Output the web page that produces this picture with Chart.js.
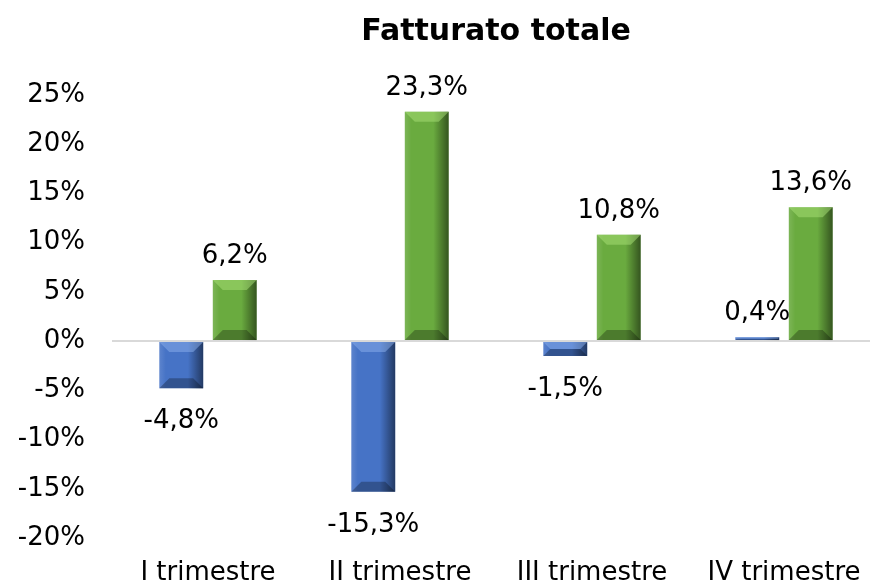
<!DOCTYPE html>
<html>
<head>
<meta charset="utf-8">
<script src="https://cdn.jsdelivr.net/npm/chart.js@4.4.1/dist/chart.umd.min.js"></script>
<style>
  html, body { margin: 0; padding: 0; background: #fff; overflow: hidden; }
  #wrap { width: 880px; height: 587px; }
</style>
</head>
<body>
<div id="wrap"><canvas id="chart"></canvas></div>
<script>
const categories = ['I trimestre', 'II trimestre', 'III trimestre', 'IV trimestre'];
const seriesBlue = [-4.8, -15.3, -1.5, 0.4];
const seriesGreen = [6.2, 23.3, 10.8, 13.6];
const yTicks = [-20, -15, -10, -5, 0, 5, 10, 15, 20, 25];

const fmt = v => v.toFixed(1).replace('.', ',') + '%';

// bevel look, drawn over each bar using the element geometry
const bevelPlugin = {
    id: 'bevel',
    afterDatasetsDraw(chart) {
        const ctx = chart.ctx;
        chart.data.datasets.forEach((ds, i) => {
            chart.getDatasetMeta(i).data.forEach(bar => {
                const l = bar.x - bar.width / 2, r = bar.x + bar.width / 2;
                const top = Math.min(bar.y, bar.base), bot = Math.max(bar.y, bar.base);
                const h = bot - top;
                const b = Math.min(10, h / 2);
                ctx.save();
                // side shading
                const g = ctx.createLinearGradient(l, 0, r, 0);
                g.addColorStop(0, 'rgba(255,255,255,0.12)');
                g.addColorStop(0.15, 'rgba(255,255,255,0)');
                g.addColorStop(0.65, 'rgba(0,0,0,0)');
                g.addColorStop(1, 'rgba(0,0,0,0.5)');
                ctx.fillStyle = g;
                ctx.fillRect(l, top, r - l, h);
                // top bevel
                ctx.beginPath();
                ctx.moveTo(l, top); ctx.lineTo(r, top);
                ctx.lineTo(r - b, top + b); ctx.lineTo(l + b, top + b);
                ctx.closePath();
                ctx.fillStyle = ds.bevelTop;
                ctx.fill();
                // bottom bevel
                ctx.beginPath();
                ctx.moveTo(l, bot); ctx.lineTo(r, bot);
                ctx.lineTo(r - b, bot - b); ctx.lineTo(l + b, bot - b);
                ctx.closePath();
                ctx.fillStyle = 'rgba(0,0,0,0.28)';
                ctx.fill();
                ctx.restore();
            });
        });
    }
};

const valueLabels = {
    id: 'valueLabels',
    afterDatasetsDraw(chart) {
        const ctx = chart.ctx;
        ctx.save();
        ctx.font = '26px "DejaVu Sans"';
        ctx.fillStyle = '#000';
        ctx.textAlign = 'center';
        ctx.textBaseline = 'alphabetic';
        chart.data.datasets.forEach((ds, i) => {
            chart.getDatasetMeta(i).data.forEach((bar, j) => {
                const v = ds.data[j];
                ctx.fillText(fmt(v), bar.x, v >= 0 ? bar.y - 17 : bar.y + 40);
            });
        });
        ctx.restore();
    }
};

new Chart(document.getElementById('chart'), {
    type: 'bar',
    data: {
        labels: categories,
        datasets: [
            { label: 'A', data: seriesBlue, backgroundColor: '#4673c6', bevelTop: 'rgba(140,175,235,0.5)', borderWidth: 0 },
            { label: 'B', data: seriesGreen, backgroundColor: '#6aab3f', bevelTop: 'rgba(170,225,120,0.5)', borderWidth: 0 }
        ]
    },
    options: {
        responsive: true,
        maintainAspectRatio: false,
        animation: false,
        layout: { padding: { top: 14, right: 0, bottom: 0, left: 18 } },
        datasets: { bar: { categoryPercentage: 0.557, barPercentage: 0.82 } },
        plugins: {
            legend: { display: false },
            tooltip: { enabled: false },
            title: {
                display: true,
                fullSize: false,
                text: 'Fatturato totale',
                color: '#000',
                font: { family: '"DejaVu Sans"', size: 30, weight: 'bold' },
                padding: { top: 0, bottom: 45 }
            }
        },
        scales: {
            x: {
                afterFit: axis => { axis.height = 49; },
                grid: { display: false },
                border: { display: false },
                ticks: {
                    color: '#000',
                    padding: 12,
                    maxRotation: 0,
                    autoSkip: false,
                    font: { family: '"DejaVu Sans"', size: 26 }
                }
            },
            y: {
                min: -20,
                max: 25,
                afterFit: axis => { axis.width = 94; },
                afterBuildTicks: axis => { axis.ticks = yTicks.map(v => ({ value: v })); },
                grid: {
                    color: c => c.tick && c.tick.value === 0 ? '#d9d9d9' : 'rgba(0,0,0,0)',
                    lineWidth: 2,
                    drawTicks: false
                },
                border: { display: false },
                ticks: {
                    color: '#000',
                    padding: 27,
                    font: { family: '"DejaVu Sans"', size: 26 },
                    callback: v => v + '%'
                }
            }
        }
    },
    plugins: [bevelPlugin, valueLabels]
});
</script>
</body>
</html>
